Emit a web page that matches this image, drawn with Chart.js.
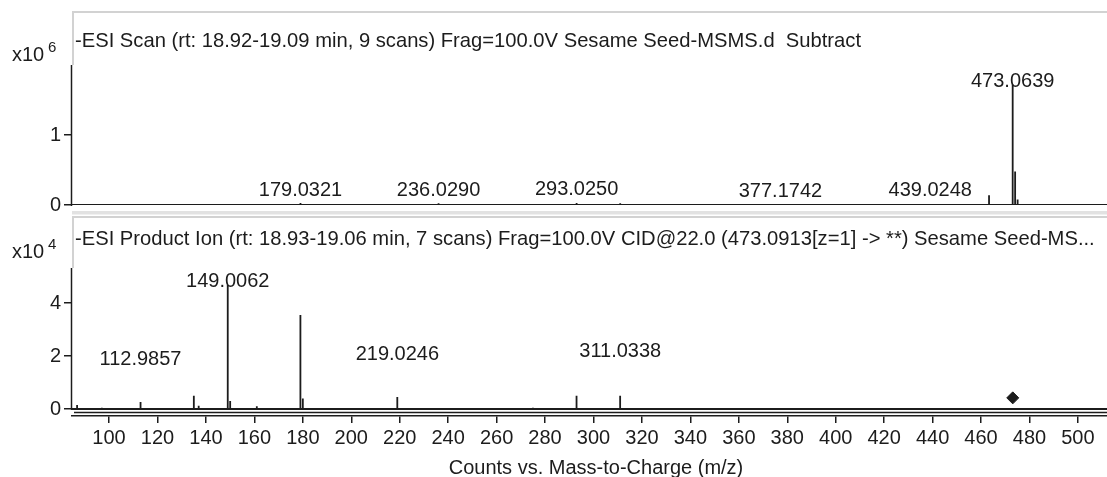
<!DOCTYPE html>
<html>
<head>
<meta charset="utf-8">
<script src="https://cdn.jsdelivr.net/npm/chart.js@4.4.1/dist/chart.umd.min.js"></script>
<style>
  body { margin: 0; background: #fff; width: 1107px; height: 477px; overflow: hidden; position: relative; }
  canvas { position: absolute; left: 0; }
  #topChart { top: 0; }
  #bottomChart { top: 213px; }
</style>
</head>
<body>
<canvas id="topChart" width="1107" height="213"></canvas>
<canvas id="bottomChart" width="1107" height="264"></canvas>
<script>
// shared m/z axis
const mzMin = 84.7;
const mzMax = 512;
const mzTicks = [100, 120, 140, 160, 180, 200, 220, 240, 260, 280, 300, 320, 340, 360, 380, 400, 420, 440, 460, 480, 500];

// top panel: ESI scan, counts x10^6
const scanMz     = [149.0, 161.5, 179.03, 236.03, 293.03, 311.03, 377.17, 439.02, 463.3, 473.06, 474.07, 475.1, 503.0];
const scanCounts = [0.01, 0.01, 0.03, 0.025, 0.03, 0.025, 0.015, 0.015, 0.14, 1.72, 0.48, 0.08, 0.015];
const scanYTicks = [0, 1];
const scanLabelMz    = [179.0321, 236.0290, 293.0250, 377.1742, 439.0248, 473.0639];
const scanLabelText  = ['179.0321', '236.0290', '293.0250', '377.1742', '439.0248', '473.0639'];
const scanLabelLevel = [0.13, 0.13, 0.14, 0.11, 0.13, 1.69];

// bottom panel: product ion, counts x10^4
const ionMz     = [86.8, 97, 105, 113.0, 121, 128, 135.0, 137.0, 149.0, 150.0, 161.0, 170, 179.0, 180.0, 190, 200, 219.0, 230, 245, 262, 275, 293.0, 311.0, 335, 360, 400, 430, 455, 490];
const ionCounts = [0.15, 0.05, 0.04, 0.26, 0.04, 0.04, 0.5, 0.12, 4.68, 0.3, 0.1, 0.04, 3.55, 0.4, 0.04, 0.04, 0.45, 0.04, 0.03, 0.03, 0.05, 0.5, 0.5, 0.04, 0.03, 0.03, 0.03, 0.03, 0.03];
const ionYTicks = [0, 2, 4];
const ionLabelMz    = [112.9857, 149.0062, 219.0246, 311.0338];
const ionLabelText  = ['112.9857', '149.0062', '219.0246', '311.0338'];
const ionLabelLevel = [1.66, 4.6, 1.85, 1.96];
const precursorMz = [473.09];
const precursorCounts = [0.42];

const FONT = "'Liberation Sans', Arial, sans-serif";
const INK = '#1c1c1c';

function sticks(mz, counts, mult) {
  const pts = [{ x: mzMin, y: 0 }];
  mz.forEach((m, i) => {
    pts.push({ x: m, y: 0 }, { x: m, y: counts[i] * mult }, { x: m, y: 0 });
  });
  pts.push({ x: mzMax, y: 0 });
  return pts;
}

const panelDecor = {
  id: 'panelDecor',
  afterDraw(chart, args, o) {
    const ctx = chart.ctx, xs = chart.scales.x, ys = chart.scales.y, a = chart.chartArea;
    const zero = ys.getPixelForValue(0);
    ctx.save();
    // light frame around the panel
    ctx.strokeStyle = '#d2d2d2';
    ctx.lineWidth = 2;
    ctx.beginPath();
    ctx.moveTo(a.left + 1, a.top);
    ctx.lineTo(a.left + 1, o.frameTop);
    ctx.lineTo(chart.width, o.frameTop);
    ctx.stroke();
    if (o.sepY != null) {
      ctx.strokeStyle = '#e2e2e2';
      ctx.beginPath();
      ctx.moveTo(a.left, o.sepY);
      ctx.lineTo(chart.width, o.sepY);
      ctx.stroke();
    }
    // y axis line down to zero
    ctx.strokeStyle = INK;
    ctx.lineWidth = 1.5;
    ctx.beginPath();
    ctx.moveTo(a.left - 0.5, a.top);
    ctx.lineTo(a.left - 0.5, zero + 1);
    ctx.stroke();
    if (o.doubleAxis) {
      ctx.beginPath();
      ctx.moveTo(a.left + 2, a.bottom - 3.5);
      ctx.lineTo(a.right, a.bottom - 3.5);
      ctx.stroke();
    }
    // title and exponent
    ctx.fillStyle = INK;
    ctx.textBaseline = 'alphabetic';
    ctx.textAlign = 'left';
    ctx.font = '20.2px ' + FONT;
    ctx.fillText(o.title, 75, o.titleY);
    ctx.font = '20px ' + FONT;
    ctx.fillText('x10', 12, o.expY);
    ctx.font = '15px ' + FONT;
    ctx.fillText(o.exponent, 48, o.expY - 9);
    // peak labels
    ctx.font = '20px ' + FONT;
    ctx.textAlign = 'center';
    o.labelMz.forEach((m, i) => {
      ctx.fillText(o.labelText[i], xs.getPixelForValue(m), ys.getPixelForValue(o.labelLevel[i] * o.mult));
    });
    // axis title
    if (o.axisTitle) {
      ctx.font = '20px ' + FONT;
      ctx.fillText(o.axisTitle, 596, chart.height - 3);
    }
    ctx.restore();
  }
};

function yScale(mult, min, max, ticks) {
  return {
    type: 'linear',
    min: min,
    max: max,
    afterFit: s => { s.width = 72; s.paddingTop = 0; s.paddingBottom = 0; },
    afterBuildTicks: s => { s.ticks = ticks.map(v => ({ value: v * mult })); },
    border: { display: false },
    grid: { drawOnChartArea: false, drawTicks: true, tickLength: 8, color: INK, lineWidth: 1.5 },
    ticks: { padding: 3, color: INK, font: { family: FONT, size: 20 }, callback: v => String(v / mult) }
  };
}

// top panel
new Chart(document.getElementById('topChart'), {
  type: 'line',
  data: {
    datasets: [{
      data: sticks(scanMz, scanCounts, 1e6),
      borderColor: INK,
      borderWidth: 1.8,
      pointRadius: 0,
      tension: 0
    }]
  },
  options: {
    responsive: false,
    animation: false,
    devicePixelRatio: 1,
    layout: { autoPadding: false, padding: { top: 65, bottom: 8, left: 0, right: 0 } },
    plugins: {
      legend: { display: false },
      tooltip: { enabled: false },
      panelDecor: {
        frameTop: 12, sepY: 212, titleY: 47, expY: 61, exponent: '6', mult: 1e6,
        title: '-ESI Scan (rt: 18.92-19.09 min, 9 scans) Frag=100.0V Sesame Seed-MSMS.d  Subtract',
        labelMz: scanLabelMz, labelText: scanLabelText, labelLevel: scanLabelLevel
      }
    },
    scales: {
      x: { type: 'linear', min: mzMin, max: mzMax, display: false },
      y: yScale(1e6, 0, 2.0e6, scanYTicks)
    }
  },
  plugins: [panelDecor]
});

// bottom panel
new Chart(document.getElementById('bottomChart'), {
  type: 'line',
  data: {
    datasets: [{
      data: sticks(ionMz, ionCounts, 1e4),
      borderColor: INK,
      borderWidth: 1.8,
      pointRadius: 0,
      tension: 0
    }, {
      data: precursorMz.map((m, i) => ({ x: m, y: precursorCounts[i] * 1e4 })),
      showLine: false,
      pointStyle: 'rectRot',
      pointRadius: 6,
      backgroundColor: INK,
      borderColor: INK
    }]
  },
  options: {
    responsive: false,
    animation: false,
    devicePixelRatio: 1,
    layout: { autoPadding: false, padding: { top: 55, bottom: 0, left: 0, right: 0 } },
    plugins: {
      legend: { display: false },
      tooltip: { enabled: false },
      panelDecor: {
        frameTop: 4, sepY: 0.5, titleY: 32, expY: 45, exponent: '4', mult: 1e4, doubleAxis: true,
        title: '-ESI Product Ion (rt: 18.93-19.06 min, 7 scans) Frag=100.0V CID@22.0 (473.0913[z=1] -> **) Sesame Seed-MS...',
        labelMz: ionLabelMz, labelText: ionLabelText, labelLevel: ionLabelLevel,
        axisTitle: 'Counts vs. Mass-to-Charge (m/z)'
      }
    },
    scales: {
      x: {
        type: 'linear',
        min: mzMin,
        max: mzMax,
        afterFit: s => { s.height = 61; s.paddingLeft = 0; s.paddingRight = 0; },
        afterBuildTicks: s => { s.ticks = mzTicks.map(v => ({ value: v })); },
        border: { display: true, color: INK, width: 1.5 },
        grid: { drawOnChartArea: false, drawTicks: true, tickLength: 7, color: INK, lineWidth: 1.5 },
        ticks: { padding: 3, maxRotation: 0, color: INK, font: { family: FONT, size: 20 } }
      },
      y: yScale(1e4, -0.264e4, 5.32e4, ionYTicks)
    }
  },
  plugins: [panelDecor]
});
</script>
</body>
</html>
